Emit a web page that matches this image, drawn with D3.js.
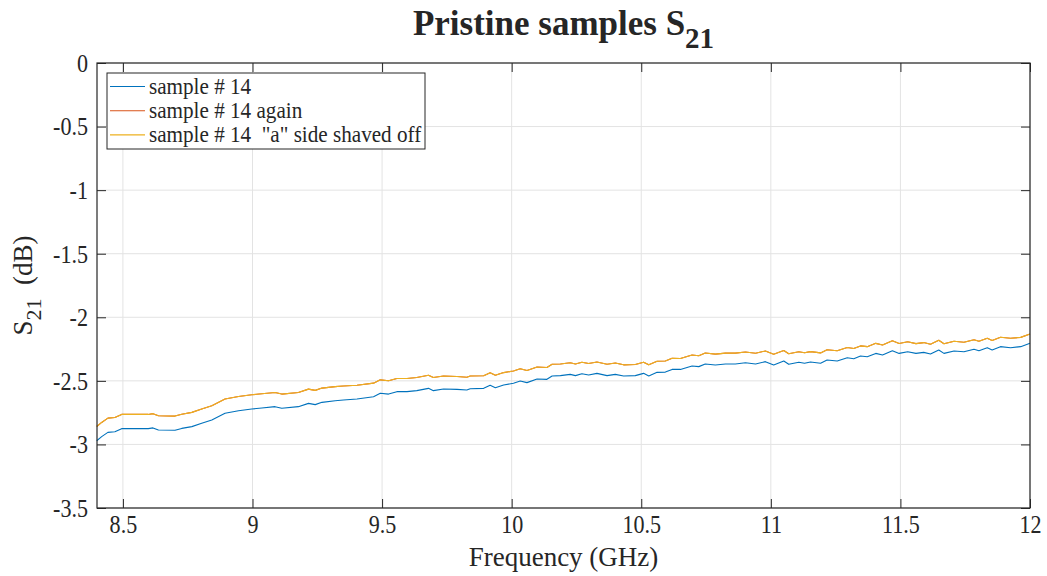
<!DOCTYPE html>
<html>
<head>
<meta charset="utf-8">
<script src="https://cdn.jsdelivr.net/npm/d3@7"></script>
<style>
  body { margin: 0; background: #fff; }
  text { font-family: "Liberation Serif", "Times New Roman", serif; fill: #262626; }
</style>
</head>
<body>
<svg id="chart" width="1047" height="576"></svg>
<script>
// Frequency sweep points (GHz)
const freqGHz = [
  8.399, 8.418, 8.442, 8.469, 8.495, 8.559, 8.598, 8.616, 8.637, 8.701,
  8.727, 8.766, 8.804, 8.843, 8.894, 8.946, 8.997, 9.036, 9.087, 9.113,
  9.177, 9.216, 9.242, 9.268, 9.319, 9.351, 9.403, 9.467, 9.493, 9.525,
  9.557, 9.596, 9.634, 9.679, 9.698, 9.737, 9.789, 9.827, 9.840, 9.892,
  9.917, 9.937, 9.969, 10.007, 10.033, 10.059, 10.098, 10.136, 10.156, 10.188,
  10.226, 10.246, 10.271, 10.297, 10.329, 10.368, 10.400, 10.432, 10.477, 10.509,
  10.529, 10.561, 10.593, 10.619, 10.651, 10.696, 10.722, 10.747, 10.786, 10.825,
  10.863, 10.902, 10.941, 10.979, 11.011, 11.050, 11.069, 11.108, 11.130, 11.153,
  11.192, 11.217, 11.256, 11.295, 11.320, 11.346, 11.372, 11.405, 11.431, 11.469,
  11.495, 11.528, 11.560, 11.590, 11.616, 11.648, 11.668, 11.707, 11.745, 11.784,
  11.803, 11.835, 11.854, 11.886, 11.925, 11.964, 12.000
];

// S21 (dB), sample #14
const s21Sample14 = [
  -2.971, -2.939, -2.905, -2.900, -2.876, -2.876, -2.876, -2.870, -2.887, -2.889,
  -2.874, -2.860, -2.834, -2.808, -2.755, -2.735, -2.721, -2.714, -2.703, -2.716,
  -2.703, -2.677, -2.687, -2.669, -2.656, -2.651, -2.643, -2.625, -2.598, -2.604,
  -2.585, -2.585, -2.577, -2.559, -2.577, -2.564, -2.567, -2.572, -2.562, -2.559,
  -2.535, -2.554, -2.533, -2.519, -2.501, -2.514, -2.485, -2.488, -2.462, -2.459,
  -2.449, -2.459, -2.444, -2.454, -2.441, -2.459, -2.449, -2.462, -2.459, -2.441,
  -2.462, -2.433, -2.431, -2.410, -2.410, -2.383, -2.388, -2.367, -2.375, -2.367,
  -2.367, -2.357, -2.367, -2.349, -2.375, -2.344, -2.370, -2.354, -2.362, -2.352,
  -2.362, -2.336, -2.344, -2.318, -2.326, -2.305, -2.310, -2.284, -2.297, -2.263,
  -2.284, -2.271, -2.284, -2.276, -2.289, -2.257, -2.284, -2.265, -2.271, -2.252,
  -2.263, -2.239, -2.257, -2.231, -2.239, -2.231, -2.205
];

// S21 (dB), sample #14 with the "a" side shaved off
const s21Shaved = [
  -2.859, -2.827, -2.793, -2.788, -2.764, -2.764, -2.764, -2.758, -2.775, -2.777,
  -2.762, -2.748, -2.722, -2.696, -2.643, -2.623, -2.609, -2.602, -2.591, -2.604,
  -2.591, -2.565, -2.575, -2.557, -2.545, -2.541, -2.535, -2.518, -2.492, -2.499,
  -2.481, -2.482, -2.474, -2.456, -2.474, -2.462, -2.466, -2.472, -2.462, -2.460,
  -2.436, -2.456, -2.435, -2.422, -2.405, -2.419, -2.391, -2.395, -2.369, -2.367,
  -2.358, -2.368, -2.354, -2.364, -2.352, -2.370, -2.360, -2.374, -2.371, -2.353,
  -2.374, -2.346, -2.344, -2.323, -2.324, -2.297, -2.302, -2.281, -2.290, -2.282,
  -2.282, -2.273, -2.283, -2.265, -2.291, -2.261, -2.287, -2.271, -2.279, -2.270,
  -2.280, -2.255, -2.263, -2.238, -2.246, -2.225, -2.231, -2.205, -2.218, -2.185,
  -2.206, -2.193, -2.207, -2.199, -2.212, -2.181, -2.208, -2.189, -2.196, -2.177,
  -2.188, -2.165, -2.183, -2.157, -2.165, -2.158, -2.132
];

// S21 (dB), sample #14 measured again; the repeat sweep coincides with the shaved trace
const s21Again = s21Shaved.slice();

const seriesNames = ["sample # 14", "sample # 14 again", "sample # 14  \"a\" side shaved off"];
const seriesColors = ["#0072BD", "#D95319", "#EDB120"];

const xTicks = [8.5, 9, 9.5, 10, 10.5, 11, 11.5, 12];
const yTicks = [0, -0.5, -1, -1.5, -2, -2.5, -3, -3.5];
const xDomain = [8.4, 12];
const yDomain = [-3.5, 0];

const svg = d3.select("#chart");
const plot = { left: 97, right: 1030, top: 63, bottom: 508 };
const axisColor = "#262626";
const gridColor = "#e3e3e3";
const tickLen = 9;
const tickFont = 26;      // tick label size
const tickSqueeze = 0.85; // narrow face for tick labels

const x = d3.scaleLinear().domain(xDomain).range([plot.left, plot.right]);
const y = d3.scaleLinear().domain(yDomain).range([plot.bottom, plot.top]);

// grid
const grid = svg.append("g");
grid.selectAll("line.gx").data(xTicks).join("line")
  .attr("x1", d => x(d)).attr("x2", d => x(d))
  .attr("y1", plot.top).attr("y2", plot.bottom)
  .attr("stroke", gridColor).attr("stroke-width", 1);
grid.selectAll("line.gy").data(yTicks).join("line")
  .attr("y1", d => y(d)).attr("y2", d => y(d))
  .attr("x1", plot.left).attr("x2", plot.right)
  .attr("stroke", gridColor).attr("stroke-width", 1);

// traces
const series = [s21Sample14, s21Again, s21Shaved];
const line = d3.line().x(d => x(d[0])).y(d => y(d[1]));
svg.append("g")
  .selectAll("path").data(series).join("path")
  .attr("d", vals => line(freqGHz.map((f, i) => [f, vals[i]])))
  .attr("fill", "none")
  .attr("stroke", (d, i) => seriesColors[i])
  .attr("stroke-width", 1.1)
  .attr("stroke-linejoin", "round");

// axes: ticks point inwards, on all four sides
function styleAxis(g) {
  g.select(".domain").remove();
  g.selectAll(".tick line").attr("stroke", axisColor);
  g.selectAll(".tick text").attr("fill", axisColor)
    .style("font-family", '"Liberation Serif", "Times New Roman", serif')
    .style("font-size", tickFont + "px");
}
svg.append("g").attr("transform", `translate(0,${plot.bottom})`)
  .call(d3.axisBottom(x).tickValues(xTicks).tickFormat(d3.format("")).tickSizeInner(-tickLen).tickSizeOuter(0).tickPadding(6.5))
  .call(styleAxis)
  .call(g => g.selectAll(".tick text").attr("transform", `scale(${tickSqueeze},1)`));
svg.append("g").attr("transform", `translate(0,${plot.top})`)
  .call(d3.axisTop(x).tickValues(xTicks).tickFormat("").tickSizeInner(-tickLen).tickSizeOuter(0))
  .call(styleAxis);
svg.append("g").attr("transform", `translate(${plot.left},0)`)
  .call(d3.axisLeft(y).tickValues(yTicks).tickFormat(d => String(d)).tickSizeInner(-tickLen).tickSizeOuter(0))
  .call(styleAxis)
  .call(g => g.selectAll(".tick text")
    .attr("x", -9 / tickSqueeze)
    .attr("transform", `scale(${tickSqueeze},1)`));
svg.append("g").attr("transform", `translate(${plot.right},0)`)
  .call(d3.axisRight(y).tickValues(yTicks).tickFormat("").tickSizeInner(-tickLen).tickSizeOuter(0))
  .call(styleAxis);

// plot box
svg.append("rect")
  .attr("x", plot.left).attr("y", plot.top)
  .attr("width", plot.right - plot.left).attr("height", plot.bottom - plot.top)
  .attr("fill", "none").attr("stroke", axisColor).attr("stroke-width", 1.2);

// axis labels
svg.append("text")
  .attr("x", (plot.left + plot.right) / 2).attr("y", 566)
  .attr("text-anchor", "middle").style("font-size", "27px")
  .text("Frequency (GHz)");

const yl = svg.append("text")
  .attr("transform", `translate(32,${(plot.top + plot.bottom) / 2}) rotate(-90)`)
  .attr("text-anchor", "middle").style("font-size", "27px");
yl.append("tspan").text("S");
yl.append("tspan").attr("dy", 9).style("font-size", "22px").text("21");
yl.append("tspan").attr("dy", -9).style("white-space", "pre").text("  (dB)");

// title
const title = svg.append("text")
  .attr("x", (plot.left + plot.right) / 2).attr("y", 35)
  .attr("text-anchor", "middle").style("font-size", "35px").style("font-weight", "bold");
title.append("tspan").text("Pristine samples S");
title.append("tspan").attr("dy", 13).style("font-size", "29px").text("21");

// legend
const lg = svg.append("g").attr("transform", "translate(107,73)");
lg.append("rect").attr("width", 318).attr("height", 76)
  .attr("fill", "#fff").attr("stroke", "#262626").attr("stroke-width", 1);
const rows = lg.selectAll("g.row").data(seriesNames).join("g")
  .attr("transform", (d, i) => `translate(0,${13.5 + i * 24.2})`);
rows.append("line").attr("x1", 3).attr("x2", 38)
  .attr("stroke", (d, i) => seriesColors[i]).attr("stroke-width", 1.1);
rows.append("text")
  .attr("transform", "translate(42,7.5) scale(0.9,1)")
  .style("font-size", "23.5px").style("white-space", "pre")
  .text(d => d);
</script>
</body>
</html>
